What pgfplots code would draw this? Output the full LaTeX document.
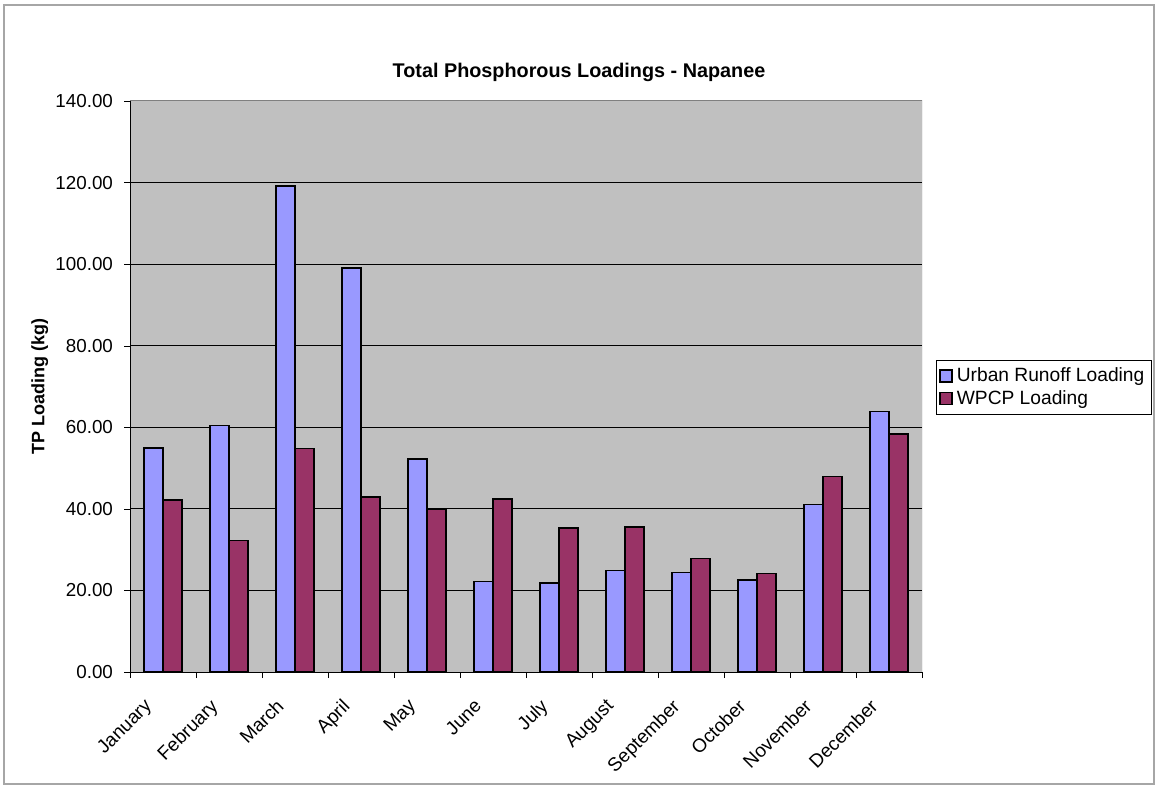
\documentclass[border=0pt]{standalone}
\usepackage{pgfplots}
\pgfplotsset{compat=1.18}
\usepackage{fontspec}
\setmainfont{Liberation Sans}
\definecolor{urban}{HTML}{9999FF}
\definecolor{wpcp}{HTML}{993366}
\definecolor{plotbg}{HTML}{C0C0C0}
\begin{document}
\begin{tikzpicture}
\useasboundingbox (0pt,0pt) rectangle (578.5pt,394pt);
\draw[gray!70, line width=0.6pt] (2pt,2pt) rectangle (577pt,391.5pt);
\node[font=\bfseries\fontsize{9.9}{11}\selectfont] at (289.5pt,358pt) {Total Phosphorous Loadings - Napanee};
\begin{axis}[
  at={(65pt,58pt)}, anchor=south west,
  scale only axis, width=396pt, height=285.5pt,
  xmin=-0.5, xmax=11.5, ymin=0, ymax=140,
  axis lines=left, axis line style={black, -},
  axis background/.style={fill=plotbg},
  ybar, bar width=9.5pt,
  ytick={0,20,...,140},
  ymajorgrids, grid style={black, line width=0.5pt},
  xtick={0,...,11},
  xticklabels={January,February,March,April,May,June,July,August,September,October,November,December},
  minor xtick={-0.5,0.5,...,11.5},
  major x tick style={draw=none},
  tick align=outside, major tick length=3pt, minor tick length=3pt,
  tick style={black},
  x tick label style={rotate=45, anchor=north east, font=\fontsize{9.5}{11}\selectfont, xshift=-10.5pt, yshift=3.5pt},
  y tick label style={font=\fontsize{9.4}{11}\selectfont, xshift=-2pt},
  yticklabel style={/pgf/number format/.cd, fixed, fixed zerofill, precision=2, assume math mode=true},
  ylabel={TP Loading (kg)},
  ylabel style={font=\bfseries\fontsize{9}{11}\selectfont, at={(axis description cs:-0.114,0.5)}, anchor=center},
  legend style={at={(rel axis cs:1.0177,0.5464)}, anchor=north west, draw=black, font=\fontsize{9.6}{11}\selectfont, inner sep=1.5pt, row sep=-1pt, cells={anchor=west}},
  legend image code/.code={\draw[#1, draw=black, line width=0.7pt] (0pt,-3pt) rectangle (6pt,3pt);},
]
\addplot[fill=urban, draw=black, line width=0.8pt, bar shift=-4.75pt] coordinates {
(0,54.9) (1,60.4) (2,119.1) (3,99.0) (4,52.2) (5,22.2) (6,21.8) (7,24.9) (8,24.4) (9,22.5) (10,41.1) (11,63.9)};
\addlegendentry{Urban Runoff Loading}
\addplot[fill=wpcp, draw=black, line width=0.8pt, bar shift=4.75pt] coordinates {
(0,42.2) (1,32.2) (2,54.8) (3,42.9) (4,39.9) (5,42.4) (6,35.3) (7,35.6) (8,27.8) (9,24.2) (10,47.9) (11,58.3)};
\addlegendentry{WPCP Loading}
\draw[gray, line width=0.5pt] (rel axis cs:0,1) -- (rel axis cs:1,1) -- (rel axis cs:1,0);
\end{axis}
\end{tikzpicture}
\end{document}
